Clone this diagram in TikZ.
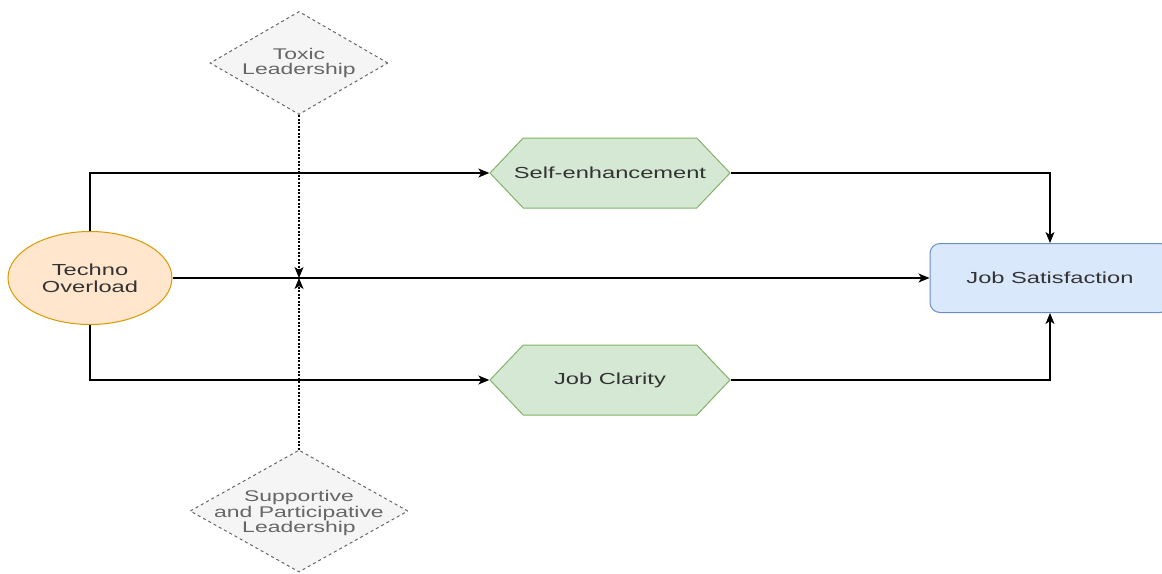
\documentclass[tikz,border=0pt]{standalone}
\usepackage{fontspec}
\setmainfont{Liberation Sans}
\newfontfamily\widefont[FakeStretch=1.48]{Liberation Sans}
\usetikzlibrary{shapes.geometric,shapes.symbols,arrows.meta}
\definecolor{orfill}{HTML}{FFE6CC}
\definecolor{ordraw}{HTML}{D79B00}
\definecolor{grfill}{HTML}{D5E8D4}
\definecolor{grdraw}{HTML}{82B366}
\definecolor{blfill}{HTML}{DAE8FC}
\definecolor{bldraw}{HTML}{6C8EBF}
\definecolor{gyfill}{HTML}{F5F5F5}
\definecolor{gydraw}{HTML}{666666}
\definecolor{txtdark}{HTML}{333333}
\begin{document}
\begin{tikzpicture}[x=1pt,y=-1pt,
  txt/.style={font=\widefont\fontsize{16pt}{17pt}\selectfont, text=txtdark, align=center},
  techno/.style={ellipse, draw=ordraw, fill=orfill, line width=1pt, minimum width=164pt, minimum height=93pt, inner sep=0pt, txt},
  hexa/.style={signal, signal to=west and east, signal pointer angle=93, draw=grdraw, fill=grfill, line width=1pt, minimum width=240pt, minimum height=70pt, inner sep=0pt},
  jsbox/.style={rectangle, rounded corners=10pt, draw=bldraw, fill=blfill, line width=1pt, minimum width=240pt, minimum height=69pt, inner sep=0pt, txt},
  dia/.style={diamond, draw=gydraw, fill=gyfill, line width=1pt, dash pattern=on 3pt off 3pt, inner sep=0pt},
  diatxt/.style={font=\widefont\fontsize{15.5pt}{15.5pt}\selectfont, text=gydraw, align=center},
  conn/.style={draw=black, line width=1.1pt, -{Stealth[length=11pt,width=9pt,inset=3pt]}},
  dotconn/.style={draw=black, line width=1.2pt, dash pattern=on 2pt off 1.5pt, -{Stealth[length=11pt,width=9pt,inset=3pt]}}
]
\useasboundingbox (0,0) rectangle (1162,573);

\node[techno] (tech) at (90,278) {Techno\\Overload};
\node[hexa, label={[txt]center:Self-enhancement}] (self) at (610,173) {};
\node[hexa, label={[txt]center:Job Clarity}] (clar) at (610,380) {};
\node[jsbox] (js) at (1050,278) {Job Satisfaction};
\node[dia, minimum width=178pt, minimum height=103pt, label={[diatxt]center:Toxic\\Leadership}] (tox) at (299,63) {};
\node[dia, minimum width=218pt, minimum height=122pt, label={[diatxt, yshift=-2pt]center:Supportive\\and Participative\\Leadership}] (sup) at (299,511) {};
\coordinate (cross) at (299,278);

\draw[conn] (tech.north) |- (self.west);
\draw[conn] (tech.south) |- (clar.west);
\draw[conn] (tech.east) -- (js.west);
\draw[conn] (self.east) -| (js.north);
\draw[conn] (clar.east) -| (js.south);
\draw[dotconn] (tox.south) -- (cross);
\draw[dotconn] (sup.north) -- (cross);
\end{tikzpicture}
\end{document}
